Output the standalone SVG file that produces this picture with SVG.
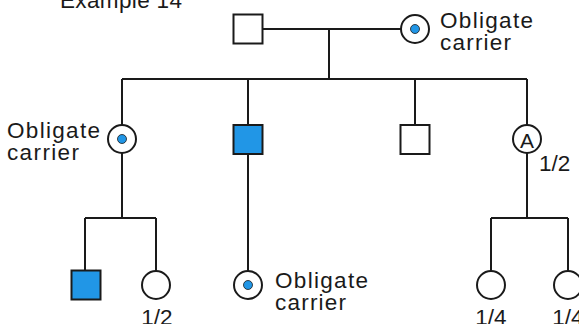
<svg xmlns="http://www.w3.org/2000/svg" width="579" height="324" viewBox="0 0 579 324">
<style>
.ln{stroke:#1a1a1a;stroke-width:2;fill:none}
.sh{stroke:#1a1a1a;stroke-width:2;fill:#fff}
.af{stroke:#1a1a1a;stroke-width:2;fill:#2196E6}
.dot{fill:#2196E6;stroke:#1a1a1a;stroke-width:0.8}
text{font-family:"Liberation Sans",Arial,sans-serif;font-size:22.5px;fill:#1a1a1a}
.c{text-anchor:middle}
</style>
<rect width="579" height="324" fill="#fff"/>
<text x="60" y="8" textLength="122" lengthAdjust="spacing">Example 14</text>
<g id="connectors">
<path class="ln" d="M263 29H401"/>
<path class="ln" d="M329 29V79"/>
<path class="ln" d="M122 79H527"/>
<path class="ln" d="M122 79V125M248 79V125M415 79V125M527 79V125"/>
<path class="ln" d="M122 153V218M85 218H156M85 218V271M156 218V271"/>
<path class="ln" d="M248 154V271"/>
<path class="ln" d="M527 153V218M491 218H568M491 218V271M568 218V271"/>
</g>
<g id="father"><rect class="sh" x="233.5" y="14.5" width="29" height="29"/></g>
<g id="mother"><circle class="sh" cx="415" cy="29" r="14"/><circle class="dot" cx="415" cy="29" r="4.5"/>
<text x="440" y="28" textLength="93" lengthAdjust="spacing">Obligate</text><text x="440" y="50" textLength="71" lengthAdjust="spacing">carrier</text></g>
<g id="child1"><circle class="sh" cx="122" cy="139" r="14"/><circle class="dot" cx="122" cy="139" r="4.5"/>
<text x="7" y="138" textLength="93" lengthAdjust="spacing">Obligate</text><text x="7" y="160" textLength="72" lengthAdjust="spacing">carrier</text></g>
<g id="child2"><rect class="af" x="233.5" y="125" width="29" height="29"/></g>
<g id="child3"><rect class="sh" x="400.5" y="125" width="29" height="29"/></g>
<g id="child4"><circle class="sh" cx="527" cy="139" r="14"/><text class="c" x="527" y="147.5" style="font-size:21px">A</text>
<text x="539" y="171">1/2</text></g>
<g id="gc1"><rect class="af" x="71.5" y="270.5" width="29" height="29"/></g>
<g id="gc2"><circle class="sh" cx="156" cy="285" r="14"/><text class="c" x="157" y="325">1/2</text></g>
<g id="gc3"><circle class="sh" cx="248" cy="285" r="14"/><circle class="dot" cx="248" cy="285" r="4.5"/>
<text x="275" y="288" textLength="93" lengthAdjust="spacing">Obligate</text><text x="275" y="310" textLength="71" lengthAdjust="spacing">carrier</text></g>
<g id="gc4"><circle class="sh" cx="491" cy="285" r="14"/><text class="c" x="491" y="325">1/4</text></g>
<g id="gc5"><circle class="sh" cx="568" cy="285" r="14"/><text class="c" x="568" y="325">1/4</text></g>
</svg>
